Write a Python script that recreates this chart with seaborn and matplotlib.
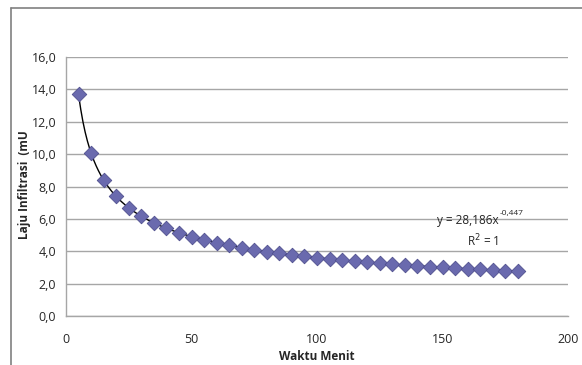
import numpy as np
import pandas as pd
import seaborn as sns
import matplotlib
matplotlib.use("Agg")
import matplotlib.pyplot as plt
from matplotlib.ticker import FuncFormatter

# Data
waktu = [5, 10, 15, 20, 25, 30, 35, 40, 45, 50, 55, 60, 65, 70, 75, 80, 85, 90,
         95, 100, 105, 110, 115, 120, 125, 130, 135, 140, 145, 150, 155, 160,
         165, 170, 175, 180]
laju = [13.73, 10.07, 8.40, 7.39, 6.69, 6.16, 5.75, 5.42, 5.14, 4.90, 4.70,
        4.52, 4.36, 4.22, 4.09, 3.97, 3.87, 3.77, 3.68, 3.60, 3.52, 3.45, 3.38,
        3.32, 3.26, 3.20, 3.15, 3.10, 3.05, 3.00, 2.96, 2.92, 2.88, 2.84, 2.80,
        2.77]
y_ticks = [0, 2, 4, 6, 8, 10, 12, 14, 16]
x_ticks = [0, 50, 100, 150, 200]

df = pd.DataFrame({"Waktu Menit": waktu, "Laju Infiltrasi": laju})

sns.set_style("white")
plt.rcParams["font.family"] = ["Open Sans", "DejaVu Sans"]

fig = plt.figure(figsize=(5.82, 3.65), dpi=100)
ax = fig.add_axes([66 / 582, 1 - 316 / 365, (568 - 66) / 582, (316 - 57) / 365])

# outer chart border (only top and left visible)
fig.add_artist(plt.Line2D([11 / 582, 11 / 582], [0, 1 - 8 / 365], color="#808080", lw=1.2))
fig.add_artist(plt.Line2D([11 / 582, 1], [1 - 8 / 365, 1 - 8 / 365], color="#808080", lw=1.2))

# power trendline fitted on the data
b, ln_a = np.polyfit(np.log(waktu), np.log(laju), 1)
xs = np.linspace(min(waktu), max(waktu), 400)
ax.plot(xs, np.exp(ln_a) * xs ** b, color="black", lw=1.0, zorder=3)

sns.scatterplot(data=df, x="Waktu Menit", y="Laju Infiltrasi", ax=ax, marker="D",
                s=55, color="#6A6AAE", edgecolor="#50508F", linewidth=0.6, zorder=4)

ax.set_xlim(0, 200)
ax.set_ylim(0, 16)
ax.set_xticks(x_ticks)
ax.set_yticks(y_ticks)
ax.yaxis.set_major_formatter(FuncFormatter(lambda v, p: f"{v:.1f}".replace(".", ",")))
ax.grid(axis="y", color="#A6A6A6", lw=1.0)
ax.set_axisbelow(True)
for side in ["top", "right"]:
    ax.spines[side].set_visible(False)
for side in ["left", "bottom"]:
    ax.spines[side].set_color("#A6A6A6")
    ax.spines[side].set_linewidth(1.0)
ax.tick_params(axis="both", direction="out", length=4, width=1, color="#A6A6A6",
               labelsize=9, pad=3)
ax.tick_params(axis="x", pad=8)

ax.set_xlabel("Waktu Menit", fontsize=8.5, fontweight="bold", labelpad=3)
ax.set_ylabel("")
fig.text(25 / 582, 1 - 185 / 365, "Laju Infiltrasi  (mU", rotation=90, fontsize=8.5,
         fontweight="bold", ha="center", va="center")

# trendline equation
ax.text(172.5, 5.9, "y = 28,186x", fontsize=8.5, ha="right", va="center")
ax.text(172.7, 6.35, "-0,447", fontsize=6, ha="left", va="center")
ax.text(166, 4.65, "R$^{2}$ = 1", fontsize=8.5, ha="center", va="center")

fig.savefig("out.png", dpi=100)
